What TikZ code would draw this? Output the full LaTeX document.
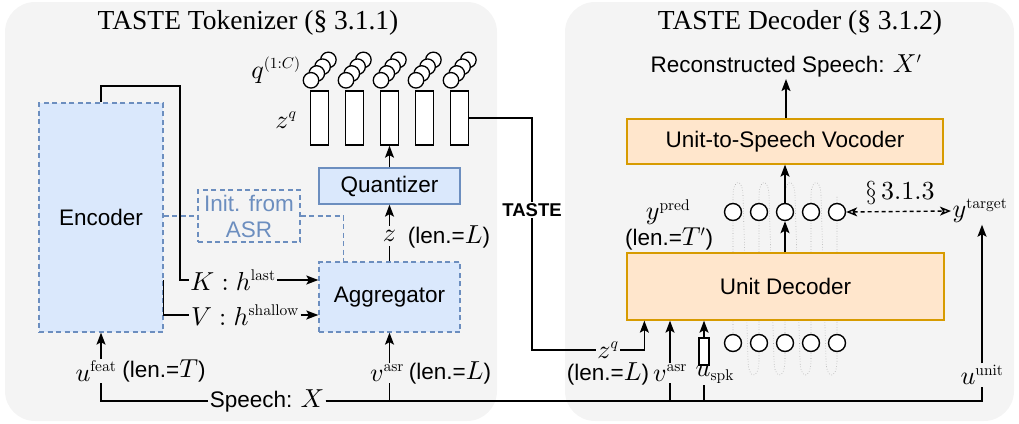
\documentclass[tikz,border=0pt]{standalone}
\usepackage[no-math]{fontspec}
\setmainfont{Liberation Serif}
\setsansfont{Liberation Sans}
% Computer Modern math at any size
\DeclareFontFamily{OT1}{cmr}{\hyphenchar\font45 }
\DeclareFontShape{OT1}{cmr}{m}{n}{<->cmr10}{}
\DeclareFontShape{OML}{cmm}{m}{it}{<->cmmi10}{}
\DeclareFontShape{OMS}{cmsy}{m}{n}{<->cmsy10}{}
\DeclareFontShape{OMX}{cmex}{m}{n}{<->cmex10}{}
\DeclareMathSizes{22.5}{26}{15.5}{12}
\usetikzlibrary{arrows.meta,calc}
\definecolor{panelgray}{HTML}{F4F4F4}
\definecolor{bluefill}{HTML}{DAE8FC}
\definecolor{blueline}{HTML}{6C8EBF}
\definecolor{orfill}{HTML}{FFE6CC}
\definecolor{orline}{HTML}{D79B00}
\definecolor{loopgray}{HTML}{A8A8A8}

\tikzset{
  lbl/.style={font=\sffamily\fontsize{22.5}{25}\selectfont, inner sep=1.5pt},
  ttl/.style={font=\rmfamily\fontsize{27.5}{30}\selectfont, inner sep=0pt},
  panel/.style={fill=panelgray, draw=none, rounded corners=30pt},
  wire/.style={line width=1.4pt, black},
  trunk/.style={line width=2.2pt, black},
  arr/.style={wire, -{Stealth[length=12pt,width=9pt,inset=2.5pt]}},
  bluebox/.style={lbl, draw=blueline, fill=bluefill, line width=1.3pt},
  bdash/.style={draw=blueline, line width=1.3pt, dash pattern=on 5pt off 3.5pt},
  orbox/.style={lbl, draw=orline, fill=orfill, line width=1.3pt},
  zqbar/.style={draw=black, fill=white, line width=1.4pt, minimum width=18pt, minimum height=54pt, inner sep=0pt},
  unit/.style={circle, draw=black, fill=white, line width=1.4pt, minimum size=17pt, inner sep=0pt},
  qdot/.style={circle, draw=black, fill=white, line width=1.3pt, minimum size=15.5pt, inner sep=0pt},
  loop/.style={draw=loopgray, line width=0.6pt, dotted},
}

\begin{document}
\begin{tikzpicture}[x=1pt,y=-1pt]
\useasboundingbox (0,0) rectangle (1019,423);

% the two panels
\path[panel] (5,2) rectangle (497,421);
\path[panel] (565,2) rectangle (1014,421);

\node[ttl] (ttlL) at (248,23) {TASTE Tokenizer (\S\ 3.1.1)};
\node[ttl] (ttlR) at (800,23) {TASTE Decoder (\S\ 3.1.2)};

% ---------------- tokenizer ----------------
\node[bluebox, bdash, minimum width=124pt, minimum height=229pt] (enc) at (101,217.5) {Encoder};
\node[lbl, bdash, text=blueline, align=center, minimum width=102pt, minimum height=52pt,
      font=\sffamily\fontsize{22.5}{26}\selectfont] (init) at (249,216) {Init. from\\ASR};
\node[bluebox, bdash, minimum width=141pt, minimum height=70pt] (agg) at (389.5,297) {Aggregator};
\node[bluebox, minimum width=141pt, minimum height=36pt] (quant) at (389.5,186) {Quantizer};

% quantized vectors and their stacks of codebook indices
\foreach \i/\x in {1/319.5,2/354.5,3/389.5,4/424.5,5/459.5}{
  \node[zqbar] (r\i) at (\x,118) {};
  \foreach \k in {3,2,1,0}{
    \node[qdot] (q\i-\k) at ({\x-8.5+5.8*\k},{80.3-6.8*\k}) {};
  }
}
\node[lbl] (qlab) at (276,70) {$q^{(1:C)}$};
\node[lbl] (zqlab) at (286,120) {$z^{q}$};

% encoder outputs to the aggregator
\coordinate (kc) at (180,86);
\node[lbl] (klab) at (233,280) {$K: h^{\mathrm{last}}$};
\node[lbl] (vlab) at (245,315) {$V: h^{\mathrm{shallow}}$};
\draw[wire] (enc.north) |- (kc) |- (klab.west);
\draw[arr] (klab.east) -- (klab.east -| agg.west);
\coordinate (vc) at (enc.east |- klab.west);
\draw[wire] (vc) |- (vlab.west);
\draw[arr] (vlab.east) -- (vlab.east -| agg.west);

% initialisation links
\draw[bdash] (enc.east |- init.west) -- (init.west);
\draw[bdash] (init.east) -| ([xshift=25pt]agg.north west);

% aggregator -> quantizer -> z^q
\node[lbl, inner sep=4pt] (zlab) at (389.5,236) {$z$};
\node[lbl] (lenL1) at (449,237) {(len.=$L$)};
\draw[wire] (agg.north) -- (zlab.south);
\draw[arr] (zlab.north) -- (quant.south);
\draw[arr] (quant.north) -- (r3.south);

% speech inputs
\node[lbl] (speech) at (267,401) {Speech: $X$};
\node[lbl] (ufeat) at (96,371) {$u^{\mathrm{feat}}$};
\node[lbl] (lenT) at (164,371) {(len.=$T$)};
\node[lbl] (vasr1) at (387,373) {$v^{\mathrm{asr}}$};
\node[lbl] (lenL2) at (450,373) {(len.=$L$)};
\draw[wire] (speech.west) -| (ufeat.south -| enc.south);
\draw[arr] (ufeat.north -| enc.south) -- (enc.south);
\draw[wire] (speech.east) -| (vasr1.south -| agg.south);
\draw[arr] (vasr1.north -| agg.south) -- (agg.south);

% ---------------- decoder ----------------
% alignment path between input units and predicted units
\draw[loop]
  (733,343) -- (733,196)
  \foreach \a in {733,759,785,811}{
    .. controls (\a,178) and (\a+10,178) .. (\a+10,196)
    -- (\a+15,360) .. controls (\a+15,380) and (\a+26,380) .. (\a+26,360)
    -- (\a+26,196)
  }
  -- (837,212);

\node[orbox, minimum width=316pt, minimum height=45pt] (voc) at (785,141.5) {Unit-to-Speech Vocoder};
\node[orbox, minimum width=317pt, minimum height=67pt] (dec) at (785.5,286.5) {Unit Decoder};
\node[lbl] (recon) at (786,66) {Reconstructed Speech: $X'$};

\foreach \i/\x in {1/733,2/759,3/785,4/811,5/837}{
  \node[unit] (t\i) at (\x,212) {};
  \node[unit] (b\i) at (\x,343) {};
}
\draw[arr] (dec.north -| t3) -- (t3.south);
\draw[arr] (t3.north) -- (voc.south -| t3);
\draw[arr] (voc.north -| recon) -- (recon.south);

\node[lbl] (ypred) at (668,212) {$y^{\mathrm{pred}}$};
\node[lbl] (lenTp) at (669,239) {(len.=$T'$)};
\node[lbl] (ytarget) at (980,211) {$y^{\mathrm{target}}$};
\node[lbl] (sec) at (900,193) {$\S\,3.1.3$};
\draw[wire, dash pattern=on 4pt off 3pt,
      {Stealth[open,length=11pt,width=9pt,inset=3pt]}-{Stealth[open,length=11pt,width=9pt,inset=3pt]}]
  (t5.east) -- (ytarget.west);

% decoder inputs
\node[lbl, font=\sffamily\bfseries\fontsize{18.5}{20}\selectfont] (taste) at (532,210) {TASTE};
\node[lbl] (zq2) at (608,350) {$z^{q}$};
\node[lbl] (lenL3) at (608,374) {(len.=$L$)};
\node[lbl] (vasr2) at (670,373) {$v^{\mathrm{asr}}$};
\node[draw=black, fill=white, line width=1.4pt, minimum width=10pt, minimum height=27pt, inner sep=0pt]
  (spk) at (704,351.5) {};
\node[lbl, anchor=west] (uspk) at (694,374) {$u_{\mathrm{spk}}$};
\node[lbl] (uunit) at (982,375) {$u^{\mathrm{unit}}$};

\draw[wire] (r5.east) -| (taste.north);
\draw[wire] (taste.south) |- (zq2.west);
\draw[arr] (zq2.east) -| ([xshift=18pt]dec.south west);
\draw[trunk] (speech.east) -- (speech.east -| vasr2.south);
\draw[wire] (speech.east) -| (vasr2.south);
\draw[arr] (vasr2.north) -- (vasr2.north |- dec.south);
\draw[wire] (speech.east) -| (uspk.south -| spk.south);
\draw[arr] (spk.north) -- (spk.north |- dec.south);
\draw[wire] (speech.east) -| (uunit.south);
\draw[arr] (uunit.north) -- (uunit.north |- ytarget.south);
\end{tikzpicture}
\end{document}
